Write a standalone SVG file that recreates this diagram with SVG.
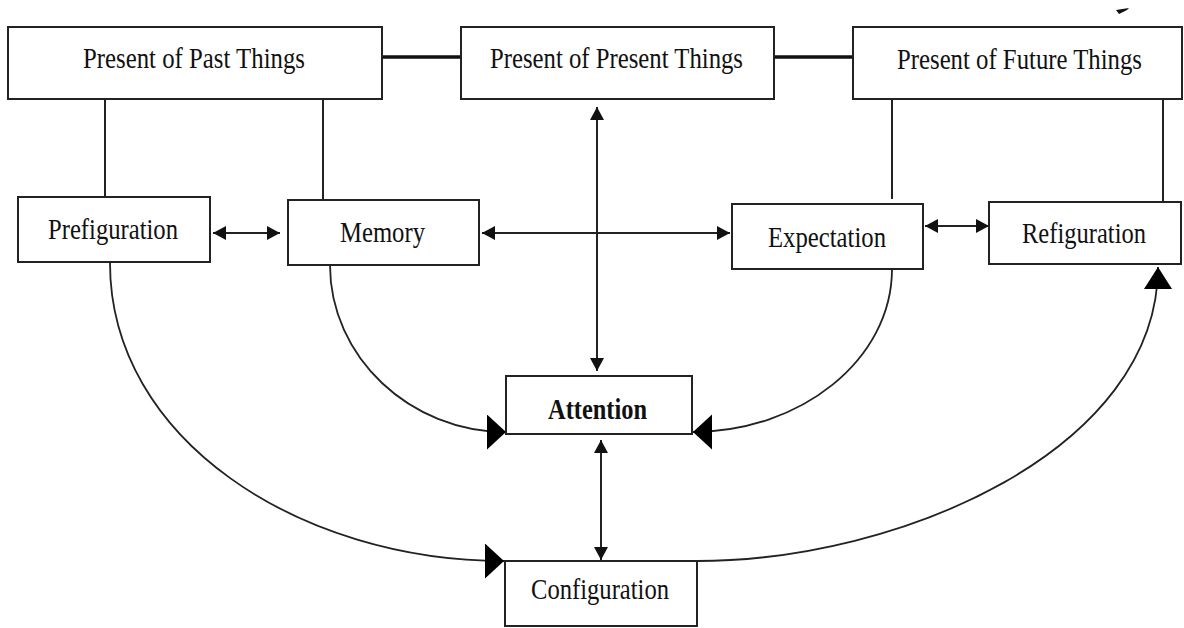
<svg xmlns="http://www.w3.org/2000/svg" width="1184" height="628" viewBox="0 0 1184 628">
<defs>
<style>
.box{fill:#fff;stroke:#222;stroke-width:2}
.lbl{font-family:"Liberation Serif","Times New Roman",serif;font-size:30px;fill:#111}
.bold{font-weight:bold}
.ln{fill:none;stroke:#222;stroke-width:2}
.thick{fill:none;stroke:#111;stroke-width:3.5}
.crv{fill:none;stroke:#222;stroke-width:1.8}
</style>
<marker id="sa" markerUnits="userSpaceOnUse" markerWidth="15" markerHeight="15" refX="13" refY="7" orient="auto-start-reverse">
<path d="M0,0 L13,7 L0,14 z" fill="#111"/>
</marker>
<marker id="ba" markerUnits="userSpaceOnUse" markerWidth="22" markerHeight="38" refX="19" refY="17.5" orient="auto">
<path d="M0,0 L19,17.5 L0,35 z" fill="#000"/>
</marker>
<marker id="bu" markerUnits="userSpaceOnUse" markerWidth="24" markerHeight="30" refX="22" refY="14" orient="auto">
<path d="M0,0 L22,14 L0,28 z" fill="#000"/>
</marker>
</defs>
<rect width="1184" height="628" fill="#fff"/>

<g id="connectors">
<line class="thick" x1="382" y1="57" x2="461" y2="57"/>
<line class="thick" x1="774" y1="57" x2="853" y2="57"/>
<line class="ln" x1="105" y1="99" x2="105" y2="197"/>
<line class="ln" x1="323" y1="99" x2="323" y2="200"/>
<line class="ln" x1="892" y1="100" x2="892" y2="199"/>
<line class="ln" x1="1163" y1="100" x2="1163" y2="201"/>
<line class="ln" x1="213" y1="233" x2="280" y2="233" marker-start="url(#sa)" marker-end="url(#sa)"/>
<line class="ln" x1="482" y1="233" x2="730" y2="233" marker-start="url(#sa)" marker-end="url(#sa)"/>
<line class="ln" x1="925" y1="226" x2="989" y2="226" marker-start="url(#sa)" marker-end="url(#sa)"/>
<line class="ln" x1="597" y1="107" x2="597" y2="371" marker-start="url(#sa)" marker-end="url(#sa)"/>
<line class="ln" x1="601" y1="440" x2="601" y2="560" marker-start="url(#sa)" marker-end="url(#sa)"/>
<path class="crv" d="M330,265 C330,357 410,432 506,432" marker-end="url(#ba)"/>
<path class="crv" d="M892,269 C892,360 800,432 693,432" marker-end="url(#ba)"/>
<path class="crv" d="M110,263 C110,440 300,561 504,561" marker-end="url(#ba)"/>
<path class="crv" d="M697,561 C900,561 1158,450 1158,267" marker-end="url(#bu)"/>
<path d="M1116,10 L1129,8 L1127,10 L1119,14 z" fill="#111"/>
</g>

<g id="past">
<rect class="box" x="8" y="27" width="374" height="72"/>
<text class="lbl" x="83" y="68" textLength="222" lengthAdjust="spacingAndGlyphs">Present of Past Things</text>
</g>
<g id="present">
<rect class="box" x="461" y="27" width="313" height="72"/>
<text class="lbl" x="490" y="68" textLength="253" lengthAdjust="spacingAndGlyphs">Present of Present Things</text>
</g>
<g id="future">
<rect class="box" x="853" y="27" width="329" height="72"/>
<text class="lbl" x="897" y="69" textLength="245" lengthAdjust="spacingAndGlyphs">Present of Future Things</text>
</g>
<g id="prefiguration">
<rect class="box" x="18" y="197" width="192" height="65"/>
<text class="lbl" x="48" y="239" textLength="130" lengthAdjust="spacingAndGlyphs">Prefiguration</text>
</g>
<g id="memory">
<rect class="box" x="288" y="200" width="191" height="65"/>
<text class="lbl" x="340" y="242" textLength="85" lengthAdjust="spacingAndGlyphs">Memory</text>
</g>
<g id="expectation">
<rect class="box" x="732" y="204" width="191" height="65"/>
<text class="lbl" x="768" y="247" textLength="118" lengthAdjust="spacingAndGlyphs">Expectation</text>
</g>
<g id="refiguration">
<rect class="box" x="989" y="202" width="192" height="62"/>
<text class="lbl" x="1022" y="243" textLength="124" lengthAdjust="spacingAndGlyphs">Refiguration</text>
</g>
<g id="attention">
<rect class="box" x="506" y="376" width="186" height="58"/>
<text class="lbl bold" x="548" y="419" textLength="99" lengthAdjust="spacingAndGlyphs">Attention</text>
</g>
<g id="configuration">
<rect class="box" x="505" y="561" width="192" height="65"/>
<text class="lbl" x="531" y="599" textLength="138" lengthAdjust="spacingAndGlyphs">Configuration</text>
</g>
</svg>
